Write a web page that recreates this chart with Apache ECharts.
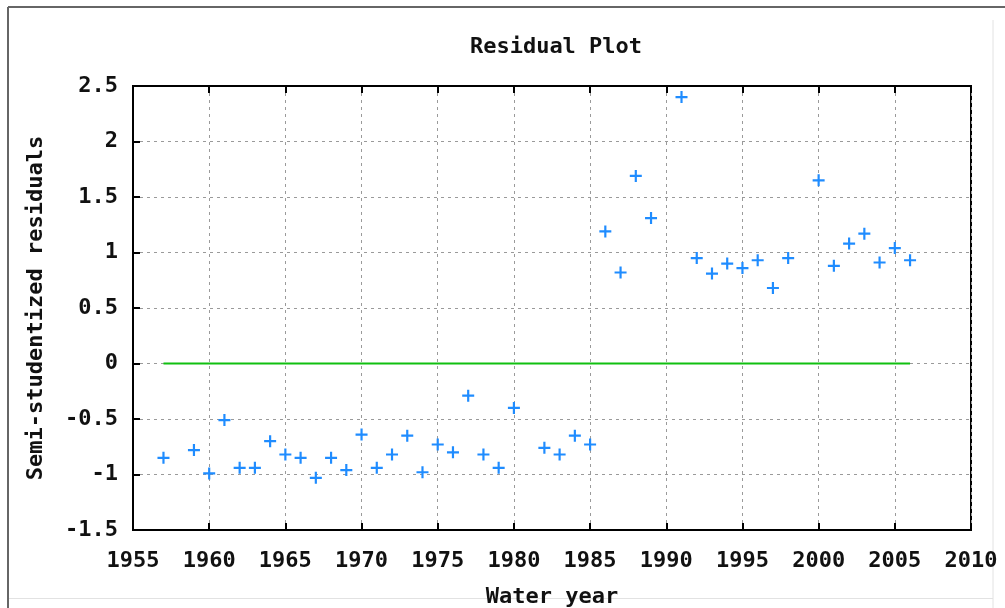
<!DOCTYPE html>
<html>
<head>
<meta charset="utf-8">
<script src="https://cdn.jsdelivr.net/npm/echarts@6/dist/echarts.min.js"></script>
<style>
html,body{margin:0;padding:0;background:#fff;}
#chart{width:1005px;height:608px;}
</style>
</head>
<body>
<div id="chart"></div>
<script>
// Data
var years = [1957,1959,1960,1961,1962,1963,1964,1965,1966,1967,1968,1969,1970,1971,1972,1973,1974,1975,1976,1977,1978,1979,1980,1982,1983,1984,1985,1986,1987,1988,1989,1991,1992,1993,1994,1995,1996,1997,1998,2000,2001,2002,2003,2004,2005,2006];
var residuals = [-0.85,-0.78,-0.99,-0.51,-0.94,-0.94,-0.70,-0.82,-0.85,-1.03,-0.85,-0.96,-0.64,-0.94,-0.82,-0.65,-0.98,-0.73,-0.80,-0.29,-0.82,-0.94,-0.40,-0.76,-0.82,-0.65,-0.73,1.19,0.82,1.69,1.31,2.40,0.95,0.81,0.90,0.86,0.93,0.68,0.95,1.65,0.88,1.08,1.17,0.91,1.04,0.93];
var zeroLineYears = [1957, 2006];
var zeroLineValues = [0, 0];
var titleText = 'Residual Plot';
var xAxisName = 'Water year';
var yAxisName = 'Semi-studentized residuals';

var FONT = 'DejaVu Sans Mono';
var FS = 22;
var pts = years.map(function(y, i){ return [y, residuals[i]]; });
var zeroLine = zeroLineYears.map(function(y, i){ return [y, zeroLineValues[i]]; });

var chart = echarts.init(document.getElementById('chart'), null, {renderer:'canvas'});
var gridLine = {show:true, lineStyle:{color:'#9a9a9a', width:1, type:[3,4]}};
var plus = 'path://M4.5,0H6.5V4.5H11V6.5H6.5V11H4.5V6.5H0V4.5H4.5Z';

chart.setOption({
  backgroundColor:'#fff',
  animation:false,
  title:{
    text:titleText, left:551, textAlign:'center', top:31,
    textStyle:{fontFamily:FONT, fontWeight:'bold', fontSize:FS, color:'#111'}
  },
  graphic:[
    {type:'line', shape:{x1:8,y1:7,x2:1005,y2:7}, style:{stroke:'#666', lineWidth:2}},
    {type:'line', shape:{x1:8,y1:7,x2:8,y2:608}, style:{stroke:'#666', lineWidth:2}},
    {type:'line', shape:{x1:993,y1:20,x2:993,y2:608}, style:{stroke:'#e2e2e2', lineWidth:1}},
    {type:'line', shape:{x1:9,y1:598.5,x2:993,y2:598.5}, style:{stroke:'#e2e2e2', lineWidth:1}}
  ],
  grid:{left:133, top:86, right:34, bottom:78, containLabel:false, outerBoundsMode:'none',
    show:true, borderColor:'#000', borderWidth:2, backgroundColor:'transparent'},
  xAxis:[{
    type:'value', min:1955, max:2010, interval:5,
    name:xAxisName, nameLocation:'middle', nameGap:56,
    nameTextStyle:{fontFamily:FONT, fontWeight:'bold', fontSize:FS, color:'#111'},
    axisLine:{show:true, onZero:false, lineStyle:{color:'#000', width:2}},
    axisTick:{show:true, inside:true, length:7, lineStyle:{color:'#000', width:2}},
    axisLabel:{fontFamily:FONT, fontWeight:'bold', fontSize:FS, color:'#111', margin:20,
      formatter:function(v){ return String(v); }},
    splitLine:gridLine
  },{
    type:'value', min:1955, max:2010, interval:5, position:'top',
    axisLine:{show:true, onZero:false, lineStyle:{color:'#000', width:2}},
    axisTick:{show:true, inside:true, length:7, lineStyle:{color:'#000', width:2}},
    axisLabel:{show:false}, splitLine:{show:false}
  }],
  yAxis:[{
    type:'value', min:-1.5, max:2.5, interval:0.5,
    name:yAxisName, nameLocation:'middle', nameGap:86, nameRotate:90,
    nameTextStyle:{fontFamily:FONT, fontWeight:'bold', fontSize:FS, color:'#111'},
    axisLine:{show:true, onZero:false, lineStyle:{color:'#000', width:2}},
    axisTick:{show:true, inside:true, length:7, lineStyle:{color:'#000', width:2}},
    axisLabel:{fontFamily:FONT, fontWeight:'bold', fontSize:FS, color:'#111', margin:15,
      formatter:function(v){ return String(v); }},
    splitLine:gridLine
  }],
  series:[{
    type:'line', data:zeroLine, symbol:'none',
    lineStyle:{color:'#10c010', width:2}, z:3
  },{
    type:'scatter', data:pts, symbol:plus, symbolSize:12,
    itemStyle:{color:'#1f8cff', opacity:1}, z:4
  }]
});
</script>
</body>
</html>
